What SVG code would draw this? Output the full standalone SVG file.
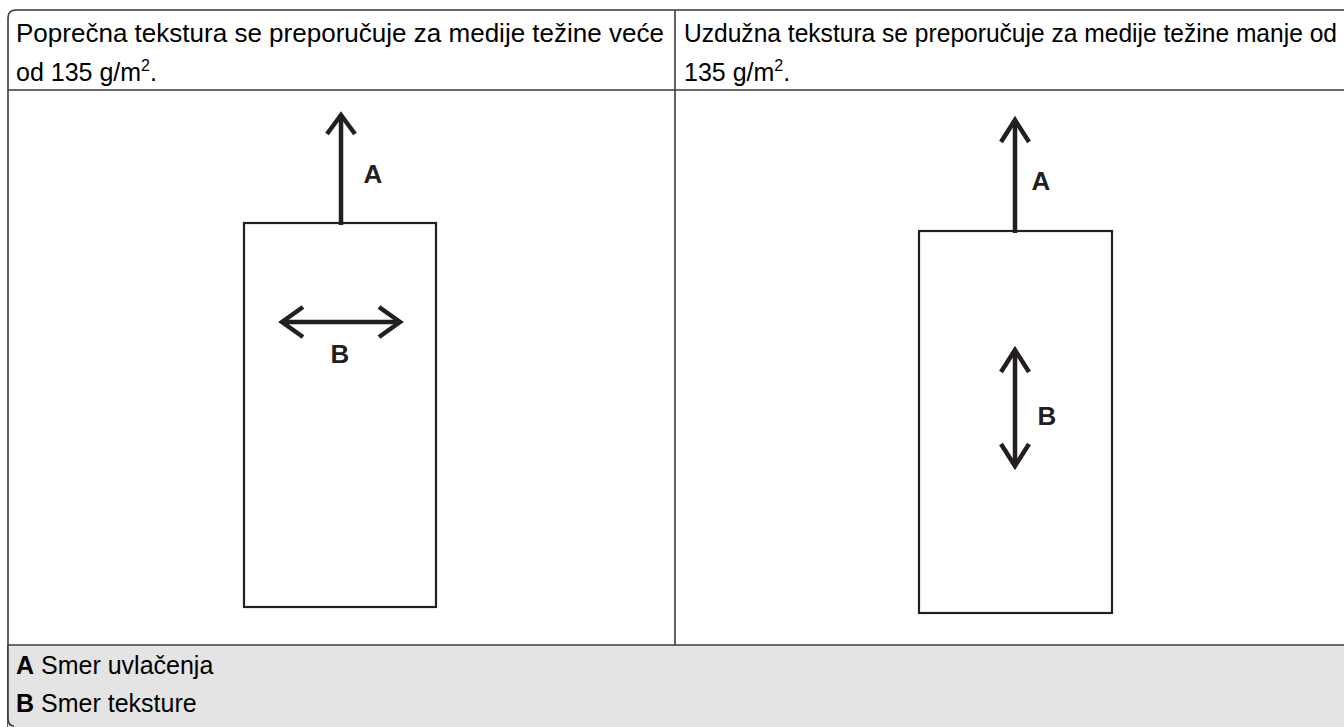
<svg xmlns="http://www.w3.org/2000/svg" width="1344" height="727" viewBox="0 0 1344 727">
<style>
.t{font-family:"Liberation Sans",Arial,sans-serif;font-size:25px;fill:#000}
.lg{font-family:"Liberation Sans",Arial,sans-serif;font-size:25px;fill:#000}
.lbl{font-family:"Liberation Sans",Arial,sans-serif;font-size:26px;font-weight:bold;fill:#231f20}
.b{font-weight:bold}
.grid{fill:none;stroke:#3a3a3a;stroke-width:1.6}
.paper{fill:#fff;stroke:#231f20;stroke-width:2.2}
.arr{fill:none;stroke:#231f20;stroke-width:4.5;stroke-linecap:butt;stroke-linejoin:miter}
</style>
<rect width="1344" height="727" fill="#fff"/>
<g id="table">
<path d="M8,727 L8,18 Q8,10 16,10 L1350,10" class="grid"/>
<path d="M8,645 L1350,645 L1350,740 L8,740 Z" fill="#e4e4e4" stroke="none"/>
<path d="M8,645 L8,718 Q8,726 14,726" class="grid"/>
<line x1="8" y1="90" x2="1350" y2="90" class="grid"/>
<line x1="8" y1="645" x2="1350" y2="645" class="grid"/>
<line x1="675" y1="10" x2="675" y2="645" class="grid"/>
</g>
<g id="header-left">
<text class="t" x="16" y="42" textLength="648" lengthAdjust="spacingAndGlyphs">Poprečna tekstura se preporučuje za medije težine veće</text>
<text class="t" x="16" y="81">od 135 g/m<tspan font-size="16" dy="-10">2</tspan><tspan dy="10">.</tspan></text>
</g>
<g id="header-right">
<text class="t" x="684" y="42" textLength="653" lengthAdjust="spacingAndGlyphs">Uzdužna tekstura se preporučuje za medije težine manje od</text>
<text class="t" x="684" y="81">135 g/m<tspan font-size="16" dy="-10">2</tspan><tspan dy="10">.</tspan></text>
</g>
<g id="sheet-left">
<rect class="paper" x="244" y="223" width="192" height="384"/>
</g>
<g id="sheet-right">
<rect class="paper" x="919" y="231" width="193" height="382"/>
</g>
<g id="connectors">
<line class="arr" x1="341" y1="225" x2="341" y2="115"/>
<polyline class="arr" points="327,134 341,115 355,134"/>
<line class="arr" x1="282" y1="322" x2="400" y2="322"/>
<polyline class="arr" points="303,307 282,322 303,337"/>
<polyline class="arr" points="379,307 400,322 379,337"/>
<line class="arr" x1="1015" y1="233" x2="1015" y2="120"/>
<polyline class="arr" points="1001,142 1015,120 1029,142"/>
<line class="arr" x1="1015" y1="350" x2="1015" y2="466"/>
<polyline class="arr" points="1001,372 1015,350 1029,372"/>
<polyline class="arr" points="1001,444 1015,466 1029,444"/>
</g>
<g id="labels">
<text class="lbl" x="373" y="183" text-anchor="middle">A</text>
<text class="lbl" x="340" y="363" text-anchor="middle">B</text>
<text class="lbl" x="1041" y="190" text-anchor="middle">A</text>
<text class="lbl" x="1047" y="425" text-anchor="middle">B</text>
</g>
<g id="legend">
<text class="lg" x="16" y="674"><tspan class="b">A</tspan> Smer uvlačenja</text>
<text class="lg" x="16" y="712"><tspan class="b">B</tspan> Smer teksture</text>
</g>
</svg>
